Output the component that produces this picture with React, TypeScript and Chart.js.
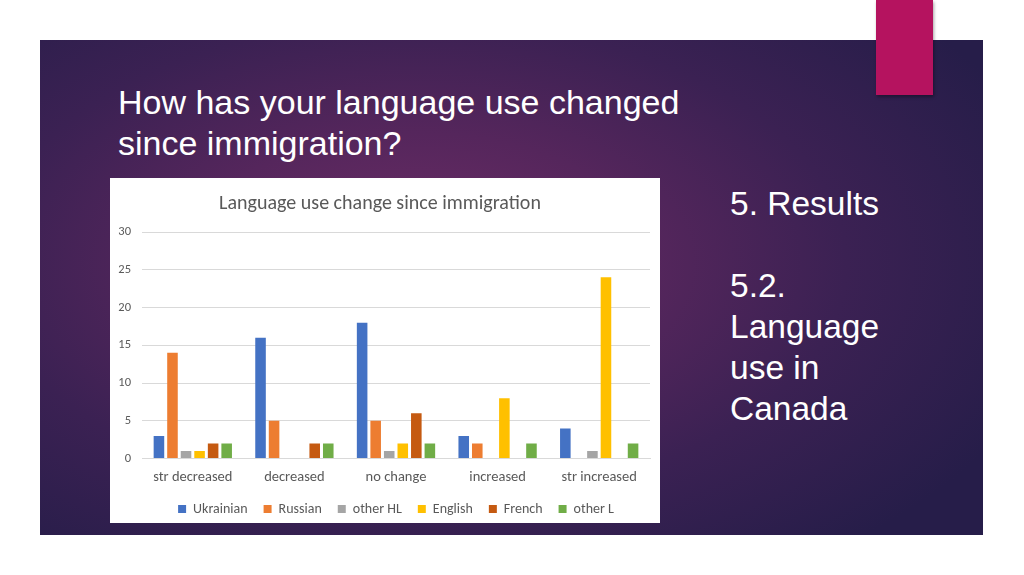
import React, { useEffect, useRef } from "react";
import { Chart, registerables } from "chart.js";

Chart.register(...registerables);

const categories = ["str decreased", "decreased", "no change", "increased", "str increased"];
const seriesNames = ["Ukrainian", "Russian", "other HL", "English", "French", "other L"];
const ukrainian = [3, 16, 18, 3, 4];
const russian = [14, 5, 5, 2, 0];
const otherHL = [1, 0, 1, 0, 1];
const english = [1, 0, 2, 8, 24];
const french = [2, 2, 6, 0, 0];
const otherL = [2, 2, 2, 2, 2];
const seriesColors = ["#4472C4", "#ED7D31", "#A5A5A5", "#FFC000", "#C55A11", "#70AD47"];
const yTicks = [0, 5, 10, 15, 20, 25, 30];

const chartFont = "Carlito, Calibri, Lato, 'Open Sans', sans-serif";

export default function App() {
  const canvasRef = useRef<HTMLCanvasElement | null>(null);

  useEffect(() => {
    if (!canvasRef.current) return;
    const values = [ukrainian, russian, otherHL, english, french, otherL];
    const chart = new Chart(canvasRef.current, {
      type: "bar",
      data: {
        labels: categories,
        datasets: seriesNames.map((name, i) => ({
          label: name,
          data: values[i],
          backgroundColor: seriesColors[i],
          borderWidth: 0,
          categoryPercentage: 0.8,
          barPercentage: 0.78,
        })),
      },
      options: {
        animation: false,
        responsive: false,
        maintainAspectRatio: false,
        layout: { padding: { left: 0, right: 10, top: 0, bottom: 0 } },
        plugins: {
          title: {
            display: true,
            text: "Language use change since immigration",
            color: "#595959",
            font: { family: chartFont, size: 20, weight: "normal" },
            padding: { top: 14, bottom: 16 },
          },
          legend: {
            display: true,
            position: "bottom",
            fullSize: false,
            labels: {
              color: "#595959",
              font: { family: chartFont, size: 14 },
              boxWidth: 8,
              boxHeight: 8,
              padding: 16,
            },
          },
          tooltip: { enabled: false },
        },
        scales: {
          x: {
            grid: { display: false, drawTicks: false },
            border: { display: true, color: "#D9D9D9" },
            afterFit: (axis: any) => {
              axis.height = axis.height - 10;
            },
            ticks: {
              color: "#595959",
              font: { family: chartFont, size: 14.5 },
              padding: 10,
              maxRotation: 0,
            },
          },
          y: {
            min: 0,
            max: 30,
            afterBuildTicks: (axis: any) => {
              axis.ticks = yTicks.map((v) => ({ value: v }));
            },
            afterFit: (axis: any) => {
              axis.width = 32;
            },
            grid: { color: "#D9D9D9", drawTicks: false },
            border: { display: false },
            ticks: {
              color: "#595959",
              font: { family: chartFont, size: 12.5 },
              padding: 11,
            },
          },
        },
      },
    });
    return () => chart.destroy();
  }, []);

  return (
    <div
      style={{
        position: "fixed",
        left: 0,
        top: 0,
        width: 1024,
        height: 575,
        background: "#ffffff",
        overflow: "hidden",
        fontFamily: "'Liberation Sans', Arial, sans-serif",
      }}
    >
      <div
        style={{
          position: "absolute",
          left: 40,
          top: 40,
          width: 943,
          height: 495,
          background:
            "radial-gradient(ellipse 70% 75% at 40% 45%, #6e2d66 0%, #55265c 35%, #3b2153 65%, #261d49 100%)",
        }}
      />
      <div
        style={{
          position: "absolute",
          left: 876,
          top: 0,
          width: 57,
          height: 95,
          background: "#B5135F",
          boxShadow: "1px 2px 3px rgba(0,0,0,0.35)",
        }}
      />
      <div
        style={{
          position: "absolute",
          left: 118,
          top: 82,
          color: "#ffffff",
          fontSize: 34,
          lineHeight: "41px",
          whiteSpace: "nowrap",
        }}
      >
        How has your language use changed
        <br />
        since immigration?
      </div>
      <div
        style={{
          position: "absolute",
          left: 730,
          top: 183,
          color: "#ffffff",
          fontSize: 33.5,
          lineHeight: "41px",
          whiteSpace: "nowrap",
        }}
      >
        5. Results
        <br />
        <br />
        5.2.
        <br />
        Language
        <br />
        use in
        <br />
        Canada
      </div>
      <div
        style={{
          position: "absolute",
          left: 110,
          top: 178,
          width: 550,
          height: 345,
          background: "#ffffff",
          overflow: "hidden",
        }}
      >
        <canvas ref={canvasRef} width={550} height={348} style={{ display: "block" }} />
      </div>
    </div>
  );
}
